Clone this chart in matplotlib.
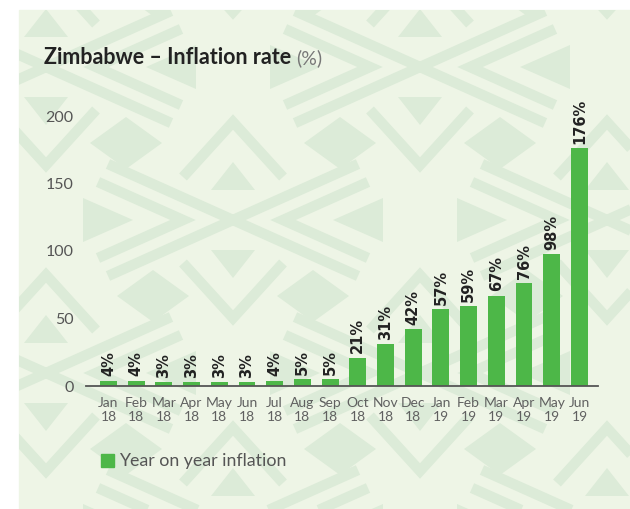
import matplotlib.pyplot as plt
import numpy as np
from matplotlib.patches import Rectangle, Polygon

months = ['Jan\n18', 'Feb\n18', 'Mar\n18', 'Apr\n18', 'May\n18', 'Jun\n18',
          'Jul\n18', 'Aug\n18', 'Sep\n18', 'Oct\n18', 'Nov\n18', 'Dec\n18',
          'Jan\n19', 'Feb\n19', 'Mar\n19', 'Apr\n19', 'May\n19', 'Jun\n19']
inflation = [4, 4, 3, 3, 3, 3, 4, 5, 5, 21, 31, 42, 57, 59, 67, 76, 98, 176]
y_ticks = [0, 50, 100, 150, 200]

panel_color = '#eef5e6'
pattern_color = '#dcebd8'
bar_color = '#4db748'
text_color = '#222222'
tick_color = '#555555'

W, H = 630, 509
fig = plt.figure(figsize=(W / 100, H / 100), dpi=100)

# background layer in pixel units (y pointing down)
bg = fig.add_axes([0, 0, 1, 1])
bg.set_xlim(0, W)
bg.set_ylim(H, 0)
bg.axis('off')
panel = Rectangle((19, 10), W - 19, H - 10, color=panel_color, zorder=0)
bg.add_patch(panel)


def band(points, lw=7.5):
    xs, ys = zip(*points)
    ln, = bg.plot(xs, ys, color=pattern_color, lw=lw, solid_capstyle='butt',
                  solid_joinstyle='miter', zorder=1)
    ln.set_clip_path(panel)


def blob(points):
    p = Polygon(points, closed=True, color=pattern_color, lw=0, zorder=1)
    bg.add_patch(p)
    p.set_clip_path(panel)


def motif(cx, cy):
    # shallow cross
    band([(cx - 125, cy - 56), (cx + 125, cy + 56)])
    band([(cx - 125, cy + 56), (cx + 125, cy - 56)])
    for s in (-1, 1):
        # side chevrons pointing at the cross
        band([(cx + s * 135, cy - 38), (cx + s * 50, cy), (cx + s * 135, cy + 38)])
        blob([(cx + s * 150, cy - 22), (cx + s * 100, cy), (cx + s * 150, cy + 22)])
        # chevrons above / below pointing away
        band([(cx - 50, cy + s * 43), (cx, cy + s * 98), (cx + 50, cy + s * 43)])
        blob([(cx - 22, cy + s * 30), (cx, cy + s * 58), (cx + 22, cy + s * 30)])
        # diamonds
        dx, dy = cx + s * 80, cy + 76
        blob([(dx - 36, dy), (dx, dy - 26), (dx + 36, dy), (dx, dy + 26)])


base = np.array([420, 67])
va = np.array([187, 153])
vb = np.array([187, -153])
for i in range(-4, 5):
    for j in range(-4, 5):
        cx, cy = base + i * va + j * vb
        if -200 < cx < W + 200 and -200 < cy < H + 200:
            motif(cx, cy)

# chart
ax = fig.add_axes([86 / W, (H - 386) / H, 512 / W, 297 / H])
ax.patch.set_alpha(0)
x = np.arange(len(months))
ax.bar(x, inflation, width=0.61, color=bar_color, zorder=3)
for xi, v in zip(x, inflation):
    ax.annotate(f'{v}%', (xi, v), xytext=(0, 3), textcoords='offset points',
                rotation=90, ha='center', va='bottom', fontsize=10.5,
                fontweight='bold', color=text_color, family='DejaVu Sans')

ax.set_xlim(-0.81, 17.67)
ax.set_ylim(0, 220)
for side in ('top', 'right', 'left'):
    ax.spines[side].set_visible(False)
ax.spines['bottom'].set_color('#555555')
ax.spines['bottom'].set_linewidth(1.3)
ax.spines['bottom'].set_zorder(4)

ax.set_yticks(y_ticks)
ax.set_yticklabels([str(t) for t in y_ticks], fontsize=11.5, color=tick_color,
                   family='Lato')
ax.set_xticks(x)
ax.set_xticklabels(months, fontsize=10, color='#606060',
                   family=['Liberation Sans Narrow', 'Lato'], linespacing=1.15)
ax.tick_params(axis='y', length=0, pad=9)
ax.tick_params(axis='x', length=0, pad=8)

# title in two weights
t1 = fig.text(44 / W, 1 - 58 / H, 'Zimbabwe – Inflation rate', fontsize=15.5,
              fontweight='bold', family='Lato', color=text_color, va='center')
fig.canvas.draw()
bb = t1.get_window_extent()
fig.text(bb.x1 / W + 5 / W, 1 - 58 / H, '(%)', fontsize=14, family='Lato',
         color='#777777', va='center')

# legend
bg.add_patch(Rectangle((101, 454), 13, 13, color=bar_color, zorder=2))
bg.text(119, 461, 'Year on year inflation', fontsize=12.8, family='Lato',
        color='#555555', va='center', zorder=2)

plt.savefig('out.png', dpi=100)
